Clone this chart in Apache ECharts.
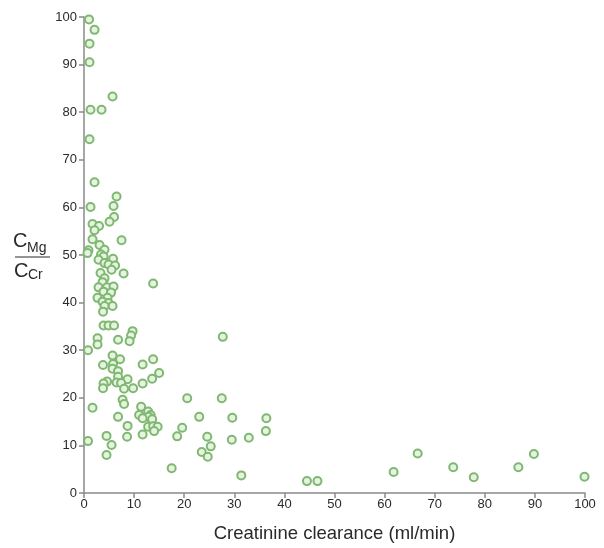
<!DOCTYPE html>
<html><head><meta charset="utf-8">
<script src="https://cdn.jsdelivr.net/npm/echarts@6/dist/echarts.min.js"></script>
<style>html,body{margin:0;padding:0;background:#fff}#c{width:604px;height:548px}</style>
</head><body><div id="c"></div>
<script>
// Creatinine clearance (ml/min)
const clearance = [1.0,2.1,1.1,1.1,5.7,1.3,3.5,1.1,
2.1,6.5,1.3,5.9,6.0,5.1,1.7,3.0,2.1,1.7,7.5,3.1,4.1,0.9,0.7,3.4,3.9,2.9,5.8,4.1,4.9,6.2,5.5,7.9,3.3,4.1,13.8,3.7,2.9,4.6,5.9,3.9,5.4,2.7,4.7,3.7,4.9,5.7,4.1,3.8,
3.9,4.9,6.0,9.7,9.4,2.7,2.7,6.8,9.1,27.7,0.8,
5.7,7.2,13.8,3.8,11.7,5.8,5.7,6.8,15.0,6.8,13.6,8.7,4.6,3.9,6.5,11.7,7.4,3.8,8.0,9.8,
20.6,27.5,7.7,8.0,1.7,11.4,12.8,11.0,13.3,12.9,6.8,11.7,13.6,23.0,29.6,36.4,8.7,12.8,13.8,14.7,14.0,19.6,36.3,4.5,8.6,11.7,18.6,24.6,32.9,29.5,0.8,5.5,25.3,4.5,23.5,24.7,17.5,31.4,44.5,46.6,
61.8,66.6,73.7,77.8,86.7,89.8,99.9];
// C_Mg / C_Cr ratio
const ratio = [99.5,97.3,94.4,90.5,83.3,80.5,80.5,74.3,
65.3,62.3,60.1,60.3,58.0,57.0,56.5,56.1,55.2,53.3,53.1,52.1,51.1,51.0,50.4,50.1,49.7,49.0,49.2,48.3,48.0,47.8,46.9,46.1,46.2,45.1,44.0,44.3,43.2,43.2,43.4,42.3,42.1,41.0,41.0,40.2,39.9,39.3,39.3,38.1,
35.2,35.2,35.2,34.0,33.1,32.5,31.2,32.2,31.9,32.8,30.0,
28.9,28.1,28.1,26.9,27.0,27.1,26.1,25.6,25.2,24.4,24.0,23.9,23.4,23.0,23.2,23.0,23.1,22.0,21.9,22.0,
19.9,19.9,19.6,18.7,17.9,18.1,17.1,16.4,16.4,16.0,16.0,15.7,15.5,16.0,15.8,15.7,14.1,13.9,14.0,13.9,13.0,13.7,13.0,12.0,11.8,12.3,11.9,11.8,11.6,11.2,10.9,10.1,9.8,8.0,8.6,7.6,5.2,3.7,2.5,2.5,
4.4,8.3,5.4,3.3,5.4,8.2,3.4];
const xTitle = 'Creatinine clearance (ml/min)';

const pts = clearance.map((x, i) => [x, ratio[i]]);
const font = 'Liberation Sans, Arial, sans-serif';
const axisCol = '#8a8a8a';
const chart = echarts.init(document.getElementById('c'));
chart.setOption({
  animation: false,
  backgroundColor: '#fff',
  grid: {left: 84, right: 19, top: 17, bottom: 53},
  xAxis: {
    type: 'value', min: 0, max: 100, interval: 10,
    axisLine: {show: true, lineStyle: {color: axisCol, width: 1.5}},
    axisTick: {show: true, length: 5, lineStyle: {color: axisCol, width: 1.5}},
    splitLine: {show: false},
    axisLabel: {color: '#2a2a2a', fontSize: 13, fontFamily: font, margin: 5},
    name: xTitle, nameLocation: 'middle', nameGap: 31,
    nameTextStyle: {color: '#2a2a2a', fontSize: 18.5, fontFamily: font}
  },
  yAxis: {
    type: 'value', min: 0, max: 100, interval: 10,
    axisLine: {show: true, lineStyle: {color: axisCol, width: 1.5}},
    axisTick: {show: true, length: 5, lineStyle: {color: axisCol, width: 1.5}},
    splitLine: {show: false},
    axisLabel: {color: '#2a2a2a', fontSize: 13, fontFamily: font, margin: 7}
  },
  graphic: [
    {type: 'text', left: 13, top: 231, style: {text: 'C', fontSize: 20, fontFamily: font, fill: '#2a2a2a'}},
    {type: 'text', left: 27, top: 241, style: {text: 'Mg', fontSize: 14, fontFamily: font, fill: '#2a2a2a'}},
    {type: 'line', shape: {x1: 15, y1: 257, x2: 50, y2: 257}, style: {stroke: '#2a2a2a', lineWidth: 1}},
    {type: 'text', left: 14, top: 261, style: {text: 'C', fontSize: 20, fontFamily: font, fill: '#2a2a2a'}},
    {type: 'text', left: 28, top: 268, style: {text: 'Cr', fontSize: 14, fontFamily: font, fill: '#2a2a2a'}}
  ],
  series: [{
    type: 'scatter',
    data: pts,
    symbol: 'circle',
    symbolSize: 8,
    itemStyle: {color: '#e6f3e1', borderColor: '#7fb871', borderWidth: 2, opacity: 1}
  }]
});
</script></body></html>
